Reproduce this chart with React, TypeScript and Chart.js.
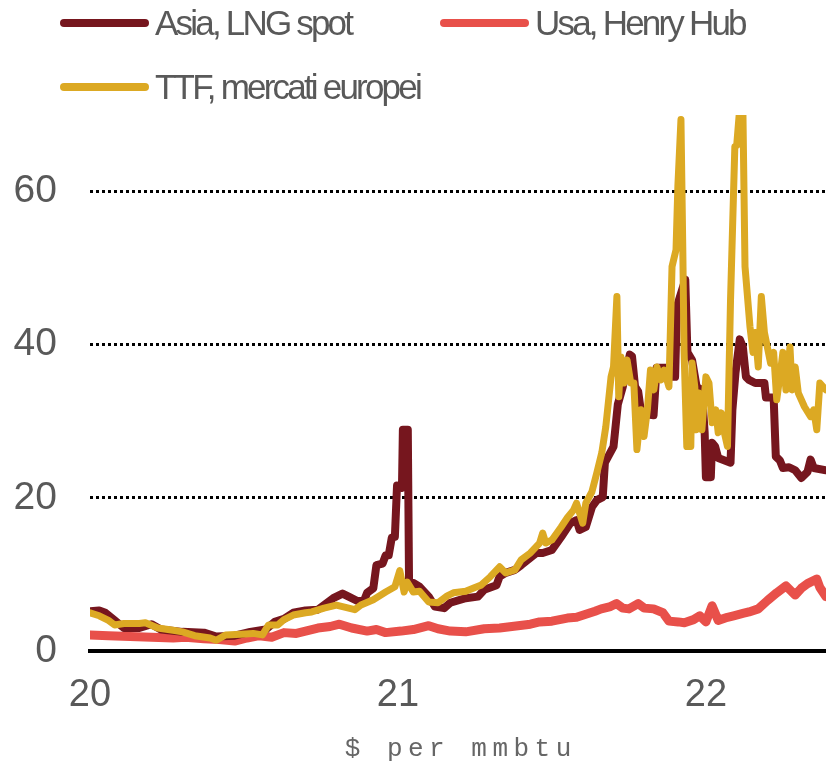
import React, { useEffect, useRef } from 'react';
import { Chart, registerables } from 'chart.js';

Chart.register(...registerables);

// ---------- data ----------
const xTickYears = [20, 21, 22];
const yTickValues = [0, 20, 40, 60];
const seriesNames = ['Asia, LNG spot', 'Usa, Henry Hub', 'TTF, mercati europei'];
const axisTitle = '$ per mmbtu';

const asiaYears = [
  20.0, 20.03, 20.05, 20.08, 20.11, 20.16, 20.2, 20.23, 20.3, 20.37, 20.41, 20.47, 20.52, 20.57, 20.6, 20.63,
  20.66, 20.7, 20.74, 20.79, 20.82, 20.84, 20.87, 20.89, 20.9, 20.92, 20.93, 20.95, 20.96, 20.97, 20.98, 20.99,
  20.997, 21.013, 21.016, 21.032, 21.036, 21.05, 21.07, 21.1, 21.12, 21.15, 21.17, 21.22, 21.26, 21.28, 21.32,
  21.33, 21.35, 21.38, 21.4, 21.45, 21.47, 21.5, 21.53, 21.56, 21.58, 21.59, 21.61, 21.63, 21.646, 21.665,
  21.672, 21.7, 21.714, 21.73, 21.753, 21.76, 21.77, 21.78, 21.79, 21.83, 21.84, 21.87, 21.88, 21.9, 21.906,
  21.933, 21.94, 21.955, 21.97, 21.987, 21.996, 22.0, 22.016, 22.02, 22.03, 22.04, 22.08, 22.086, 22.096, 22.11,
  22.12, 22.13, 22.14, 22.16, 22.19, 22.195, 22.22, 22.227, 22.24, 22.25, 22.27, 22.29, 22.31, 22.33, 22.34,
  22.35, 22.39,
];
const asiaValues = [
  5.2, 5.3, 5.0, 4.0, 3.0, 3.0, 3.5, 2.8, 2.5, 2.4, 1.9, 2.0, 2.5, 2.8, 3.8, 4.2,
  5.0, 5.3, 5.4, 6.9, 7.5, 7.1, 6.5, 6.6, 7.6, 8.2, 11.2, 11.4, 12.5, 12.5, 14.8, 14.9,
  21.6, 21.3, 28.9, 28.9, 9.0, 8.9, 8.4, 7.1, 5.8, 5.6, 6.3, 6.9, 7.1, 8.0, 8.6,
  9.7, 10.2, 10.6, 11.2, 12.8, 12.8, 13.2, 14.9, 16.7, 17.1, 15.8, 16.2, 18.8, 19.7, 20.1,
  24.6, 26.7, 32.2, 34.5, 38.7, 38.5, 34.5, 33.9, 31.0, 30.8, 37.0, 37.0, 35.8, 35.8, 45.0,
  48.5, 39.0, 38.0, 34.5, 34.1, 28.5, 22.7, 22.7, 27.2, 26.7, 25.2, 24.6, 31.5, 36.3, 40.7,
  39.7, 35.8, 35.4, 35.0, 35.0, 33.1, 33.1, 25.4, 24.9, 23.9, 24.0, 23.6, 22.6, 23.4, 25.0,
  23.9, 23.6,
];

const henryYears = [
  20.0, 20.06, 20.13, 20.2, 20.27, 20.31, 20.37, 20.42, 20.47, 20.51, 20.55, 20.59, 20.63, 20.67, 20.7, 20.74,
  20.78, 20.81, 20.85, 20.9, 20.93, 20.96, 21.01, 21.05, 21.1, 21.13, 21.17, 21.22, 21.28, 21.33, 21.39, 21.43,
  21.46, 21.5, 21.55, 21.58, 21.61, 21.64, 21.66, 21.69, 21.71, 21.73, 21.75, 21.78, 21.8, 21.83, 21.86, 21.88,
  21.91, 21.93, 21.96, 21.98, 22.0, 22.02, 22.04, 22.07, 22.09, 22.12, 22.14, 22.17, 22.2, 22.23, 22.26, 22.29,
  22.31, 22.33, 22.36, 22.37, 22.39,
];
const henryValues = [
  2.1, 2.0, 1.9, 1.8, 1.7, 1.8, 1.6, 1.5, 1.3, 1.7, 2.0, 1.8, 2.4, 2.3, 2.6, 3.0,
  3.2, 3.5, 3.0, 2.6, 2.8, 2.4, 2.6, 2.8, 3.3, 2.9, 2.6, 2.5, 2.9, 3.0, 3.3, 3.5,
  3.8, 3.9, 4.3, 4.4, 4.8, 5.2, 5.5, 5.8, 6.2, 5.6, 5.5, 6.2, 5.6, 5.5, 5.0, 3.9,
  3.8, 3.7, 4.1, 4.6, 3.8, 5.9, 4.0, 4.4, 4.6, 4.9, 5.1, 5.5, 6.6, 7.6, 8.5, 7.3,
  8.2, 8.8, 9.4, 8.3, 7.1,
];

const ttfYears = [
  20.0, 20.03, 20.06, 20.08, 20.11, 20.16, 20.18, 20.22, 20.27, 20.3, 20.34, 20.39, 20.41, 20.44, 20.49, 20.53,
  20.56, 20.58, 20.61, 20.63, 20.66, 20.7, 20.72, 20.76, 20.8, 20.84, 20.86, 20.88, 20.92, 20.96, 20.99, 21.006,
  21.02, 21.03, 21.05, 21.07, 21.1, 21.13, 21.16, 21.18, 21.22, 21.25, 21.27, 21.3, 21.33, 21.35, 21.38, 21.4,
  21.43, 21.46, 21.47, 21.48, 21.5, 21.53, 21.55, 21.57, 21.58, 21.6, 21.61, 21.63, 21.646, 21.662, 21.675,
  21.692, 21.7, 21.711, 21.717, 21.724, 21.734, 21.744, 21.756, 21.766, 21.776, 21.789, 21.799, 21.81, 21.82,
  21.831, 21.841, 21.854, 21.864, 21.88, 21.89, 21.903, 21.909, 21.919, 21.925, 21.929, 21.938, 21.951, 21.955,
  21.964, 21.968, 21.977, 21.987, 22.0, 22.01, 22.02, 22.032, 22.04, 22.05, 22.06, 22.07, 22.08, 22.094, 22.1,
  22.11, 22.12, 22.127, 22.143, 22.153, 22.16, 22.17, 22.18, 22.19, 22.21, 22.22, 22.23, 22.24, 22.25, 22.26,
  22.273, 22.28, 22.29, 22.3, 22.32, 22.34, 22.35, 22.36, 22.37, 22.39,
];
const ttfValues = [
  5.0, 4.6, 4.0, 3.4, 3.6, 3.6, 3.7, 3.0, 2.7, 2.5, 2.0, 1.7, 1.4, 2.1, 2.2, 2.3,
  2.1, 3.4, 3.4, 4.1, 4.7, 5.0, 5.1, 5.6, 6.0, 5.6, 5.4, 6.0, 6.7, 7.7, 8.4, 10.5,
  7.7, 9.0, 7.7, 7.8, 6.4, 6.3, 7.2, 7.6, 7.8, 8.3, 8.6, 9.7, 11.0, 10.2, 10.6, 11.9,
  12.8, 14.1, 15.4, 14.1, 14.5, 16.2, 17.4, 18.4, 19.3, 16.7, 19.3, 20.8, 23.3, 25.9, 29.3,
  35.8, 37.1, 46.3, 33.2, 38.4, 35.0, 38.0, 35.0, 35.0, 26.3, 31.5, 28.0, 31.5, 36.7,
  34.1, 37.1, 35.4, 36.7, 34.5, 50.2, 52.4, 60.7, 69.4, 52.4, 39.3, 26.7, 26.7, 37.6,
  34.5, 28.9, 33.7, 28.9, 35.8, 35.0, 29.8, 31.5, 28.5, 31.1, 28.5, 26.7, 45.9, 65.9, 66.0,
  71.0, 71.0, 50.2, 42.4, 39.0, 41.6, 37.1, 46.3, 41.6, 37.6, 39.0, 32.8, 35.8, 39.0, 34.1,
  39.7, 34.1, 37.1, 33.7, 31.9, 30.6, 31.5, 28.9, 35.0, 34.1,
];

// ---------- styles ----------
const ASIA_COLOR = '#76161e';
const HENRY_COLOR = '#e8504a';
const TTF_COLOR = '#dca923';
const TEXT_COLOR = '#595959';
const SANS = "'Liberation Sans', Arial, sans-serif";

const toPoints = (xs: number[], ys: number[]) => xs.map((x, i) => ({ x, y: ys[i] }));

const overlayPlugin = {
  id: 'overlay',
  afterDraw(chart: any) {
    const ctx = chart.ctx as CanvasRenderingContext2D;
    ctx.save();
    // legend
    const colors = [ASIA_COLOR, HENRY_COLOR, TTF_COLOR];
    const slots = [
      { x: 60, y: 23 },
      { x: 440, y: 23 },
      { x: 60, y: 87 },
    ];
    seriesNames.forEach((name, i) => {
      const s = slots[i];
      ctx.strokeStyle = colors[i];
      ctx.lineWidth = 8;
      ctx.lineCap = 'round';
      ctx.beginPath();
      ctx.moveTo(s.x + 4, s.y);
      ctx.lineTo(s.x + 85, s.y);
      ctx.stroke();
      ctx.fillStyle = TEXT_COLOR;
      ctx.font = `35px ${SANS}`;
      (ctx as any).letterSpacing = '-2.8px';
      ctx.textAlign = 'left';
      ctx.textBaseline = 'alphabetic';
      ctx.fillText(name, s.x + 95, s.y + 12);
    });
    // x-axis title
    ctx.font = "26px 'Liberation Mono', 'DejaVu Sans Mono', monospace";
    (ctx as any).letterSpacing = '5.5px';
    const w = ctx.measureText(axisTitle).width - 5.5;
    const cx = (chart.chartArea.left + chart.chartArea.right) / 2;
    ctx.fillStyle = '#666666';
    ctx.textAlign = 'left';
    ctx.fillText(axisTitle, cx - w / 2, 756);
    ctx.restore();
  },
};

export default function App() {
  const canvasRef = useRef<HTMLCanvasElement | null>(null);

  useEffect(() => {
    if (!canvasRef.current) return;
    const chart = new Chart(canvasRef.current, {
      type: 'line',
      data: {
        datasets: [
          {
            label: seriesNames[2],
            data: toPoints(ttfYears, ttfValues),
            borderColor: TTF_COLOR,
            backgroundColor: TTF_COLOR,
            borderWidth: 7,
          },
          {
            label: seriesNames[0],
            data: toPoints(asiaYears, asiaValues),
            borderColor: ASIA_COLOR,
            backgroundColor: ASIA_COLOR,
            borderWidth: 8,
          },
          {
            label: seriesNames[1],
            data: toPoints(henryYears, henryValues),
            borderColor: HENRY_COLOR,
            backgroundColor: HENRY_COLOR,
            borderWidth: 9,
          },
        ],
      },
      options: {
        animation: false,
        responsive: false,
        devicePixelRatio: 1,
        layout: { padding: { top: 115, left: 0, right: 0, bottom: 0 } },
        elements: {
          point: { radius: 0, hoverRadius: 0 },
          line: { tension: 0, borderJoinStyle: 'round', borderCapStyle: 'round', fill: false },
        },
        plugins: {
          legend: { display: false },
          tooltip: { enabled: false },
        },
        scales: {
          x: {
            type: 'linear',
            min: xTickYears[0],
            max: 22.39,
            afterFit: (scale: any) => {
              scale.height = 118;
            },
            grid: { display: false, drawTicks: false },
            border: { display: true, color: '#000000', width: 4 },
            ticks: {
              stepSize: 1,
              includeBounds: false,
              autoSkip: false,
              maxRotation: 0,
              padding: 22,
              color: TEXT_COLOR,
              font: { family: SANS, size: 38 },
              callback: (v: any) => (xTickYears.includes(Number(v)) ? String(v) : ''),
            },
          },
          y: {
            min: 0,
            max: 70,
            afterFit: (scale: any) => {
              scale.width = 90;
            },
            grid: {
              drawTicks: false,
              lineWidth: 3,
              color: (c: any) => (c.tick && c.tick.value === 0 ? 'rgba(0,0,0,0)' : '#000000'),
            },
            border: { display: false, dash: [3, 3] },
            ticks: {
              stepSize: 20,
              includeBounds: false,
              padding: 33,
              color: TEXT_COLOR,
              font: { family: SANS, size: 39 },
              callback: (v: any) => (yTickValues.includes(Number(v)) ? String(v) : ''),
            },
          },
        },
      },
      plugins: [overlayPlugin],
    } as any);
    return () => chart.destroy();
  }, []);

  return (
    <div style={{ position: 'fixed', left: 0, top: 0, width: 826, height: 769, background: '#ffffff' }}>
      <canvas ref={canvasRef} width={826} height={769} style={{ display: 'block' }} />
    </div>
  );
}
